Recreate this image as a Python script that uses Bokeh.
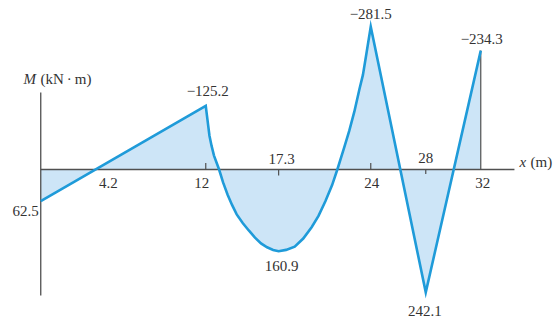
from bokeh.plotting import figure
from bokeh.models import Range1d, Label, ColumnDataSource
from bokeh.core.properties import value
from bokeh.embed import file_html
from bokeh.resources import INLINE

# Bending moment along the beam, x in m, M in kN·m (negative = hogging, drawn upward)
seg1_x = [0.0, 12.0]
seg1_m = [62.5, -125.2]

# curved part between 12 m and 24 m
curve_x = [12.09, 12.18, 12.27, 12.42, 12.60, 12.97, 13.26, 13.59, 13.92,
           14.25, 14.70, 15.13, 15.58, 16.02, 16.46, 16.90, 17.3,
           17.84, 18.47, 19.09, 19.70, 20.20, 20.70, 21.19, 21.57,
           22.06, 22.44, 22.81, 23.18, 23.43, 23.68]
curve_m = [-105.7, -86.1, -66.5, -47.0, -27.4, 0.0, 25.5, 49.8, 70.3,
           88.5, 105.9, 120.1, 134.1, 145.6, 153.3, 158.4, 160.9,
           158.4, 151.9, 136.0, 113.6, 91.4, 62.6, 30.7, 0.0,
           -42.5, -76.6, -114.4, -158.8, -186.4, -227.5]

seg3_x = [24.0, 28.0, 32.0]
seg3_m = [-281.5, 242.1, -234.3]

# labelled extreme values
peak_x = [12.0, 24.0, 32.0]
peak_m = [-125.2, -281.5, -234.3]
trough_x = [17.3, 28.0]
trough_m = [160.9, 242.1]
start_x = [0.0]
start_m = [62.5]

# positions written along the x axis
below_ticks = [4.2, 12, 24, 32]
above_ticks = [17.3, 28]

xs = seg1_x + curve_x + seg3_x
ms = seg1_m + curve_m + seg3_m


def fmt(v):
    return ("\u2212" + f"{abs(v):.1f}") if v < 0 else f"{v:.1f}"


def fmt_pos(v):
    return f"{v:g}"


LINE = "#1f9bd9"
FILL = "#cde5f7"
AXIS = "#505050"
TEXT = "#333333"
FONT = value("Liberation Serif")

p = figure(width=553, height=323, output_backend="svg", toolbar_location=None,
           x_range=Range1d(-2.927, 37.29), y_range=Range1d(303.4, -333.0),
           x_axis_location=None, y_axis_location=None, min_border=0)
p.grid.visible = False
p.outline_line_color = None
p.background_fill_color = "white"
p.border_fill_color = "white"

# shaded area between diagram and the beam axis
p.varea(x=xs, y1=[0.0] * len(xs), y2=ms, fill_color=FILL)

# beam axis and moment axis
p.segment(x0=[0.0, 0.0], y0=[0.0, -151.7], x1=[34.45, 0.0], y1=[0.0, 248.0],
          line_color=AXIS, line_width=1.3)
# closing line at the right end
p.segment(x0=[32.0], y0=[0.0], x1=[32.0], y1=[peak_m[-1]],
          line_color=AXIS, line_width=1.2)
# small tick marks
p.segment(x0=[12, 24, 17.3, 28], y0=[0, 0, 0, 0], x1=[12, 24, 17.3, 28],
          y1=[-13, -13, 12, 9], line_color=AXIS, line_width=1.2)

# moment diagram
p.line(xs, ms, line_color=LINE, line_width=2.6, line_join="miter")

# value labels
lab = ColumnDataSource(dict(
    x=peak_x + trough_x + start_x,
    y=peak_m + trough_m + start_m,
    text=[fmt(v) for v in peak_m + trough_m + start_m],
    dx=[2, 0, 1, 3, -1, -15],
    dy=[-15, -13, -12, 15, 19, 10],
))
p.text(x="x", y="y", text="text", x_offset="dx", y_offset="dy", source=lab,
       text_font=FONT, text_font_size="15px", text_color=TEXT,
       text_align="center", text_baseline="middle")

pos = ColumnDataSource(dict(
    x=below_ticks + above_ticks,
    y=[0.0] * (len(below_ticks) + len(above_ticks)),
    text=[fmt_pos(v) for v in below_ticks + above_ticks],
    dx=[10, -4, 1, 2, 3, 0],
    dy=[13, 13, 13, 13, -11, -12],
))
p.text(x="x", y="y", text="text", x_offset="dx", y_offset="dy", source=pos,
       text_font=FONT, text_font_size="15px", text_color=TEXT,
       text_align="center", text_baseline="middle")

# axis titles
for txt, sx, sy, style in [("M", 23, 245, "italic"),
                           ("(kN\u2009\u00b7\u2009m)", 40, 245, "normal"),
                           ("x", 519, 162, "italic"), ("(m)", 530, 162, "normal")]:
    p.add_layout(Label(x=sx, y=sy, x_units="screen", y_units="screen", text=txt,
                       text_font="Liberation Serif", text_font_size="15px",
                       text_font_style=style, text_color=TEXT,
                       text_baseline="middle", text_align="left"))

open("out.html", "w").write(file_html(p, INLINE))
